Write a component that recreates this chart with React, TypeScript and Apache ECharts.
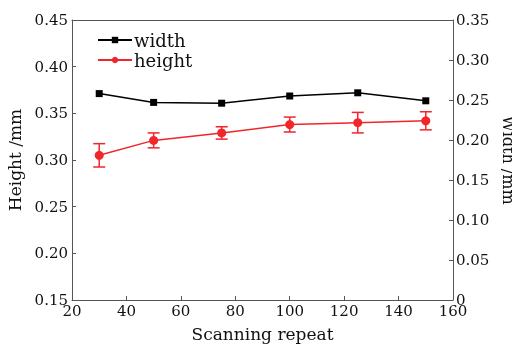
import React, { useEffect, useRef } from "react";
import * as echarts from "echarts";

const repeats = [30, 50, 75, 100, 125, 150];
const widthVals = [0.258, 0.247, 0.246, 0.255, 0.259, 0.249];
const heightVals = [0.305, 0.321, 0.329, 0.338, 0.340, 0.342];
const heightErr = [0.0125, 0.008, 0.0066, 0.008, 0.011, 0.0097];
const xTicks = { min: 20, max: 160, interval: 20 };
const leftTicks = { min: 0.15, max: 0.45, interval: 0.05 };
const rightTicks = { min: 0, max: 0.35, interval: 0.05 };

const FONT = "DejaVu Serif";
const AXIS_COLOR = "#555";
const RED = "#f0262a";

export default function App() {
  const ref = useRef<HTMLDivElement>(null);
  useEffect(() => {
    const chart = echarts.init(ref.current!, null, { renderer: "svg" });
    const fmt2 = (v: number) => (v === 0 ? "0" : v.toFixed(2));
    const axisLine = { show: true, lineStyle: { color: AXIS_COLOR, width: 1 } };
    const label = { color: "#111", fontFamily: FONT, fontSize: 15 };
    const nameStyle = { fontFamily: FONT, fontSize: 17, color: "#111" };
    chart.setOption({
      animation: false,
      textStyle: { fontFamily: FONT },
      grid: {
        left: 72,
        right: 59,
        top: 20,
        bottom: 46,
        containLabel: false,
        outerBoundsMode: "none",
      },
      legend: {
        left: 92,
        top: 26,
        orient: "vertical",
        itemGap: 2,
        itemWidth: 34,
        itemHeight: 8,
        textStyle: { fontFamily: FONT, fontSize: 18, color: "#111", padding: [0, 0, 0, -3] },
        data: ["width", "height"],
      },
      xAxis: [
        {
          type: "value",
          min: xTicks.min,
          max: xTicks.max,
          interval: xTicks.interval,
          name: "Scanning repeat",
          nameLocation: "middle",
          nameGap: 25,
          nameTextStyle: nameStyle,
          axisLine,
          axisTick: { show: true, inside: true, length: 4, lineStyle: { color: AXIS_COLOR } },
          axisLabel: { ...label, margin: 3 },
          splitLine: { show: false },
        },
        {
          type: "value",
          position: "top",
          min: xTicks.min,
          max: xTicks.max,
          axisLine,
          axisTick: { show: false },
          axisLabel: { show: false },
          splitLine: { show: false },
        },
      ],
      yAxis: [
        {
          type: "value",
          min: leftTicks.min,
          max: leftTicks.max,
          interval: leftTicks.interval,
          name: "Height /mm",
          nameLocation: "middle",
          nameGap: 46,
          nameTextStyle: nameStyle,
          axisLine,
          axisTick: { show: true, inside: true, length: 4, lineStyle: { color: AXIS_COLOR } },
          axisLabel: { ...label, margin: 4, formatter: fmt2 },
          splitLine: { show: false },
        },
        {
          type: "value",
          position: "right",
          min: rightTicks.min,
          max: rightTicks.max,
          interval: rightTicks.interval,
          name: "Width /mm",
          nameLocation: "middle",
          nameGap: 35,
          nameRotate: -90,
          nameTextStyle: { ...nameStyle, fontSize: 16 },
          axisLine,
          axisTick: { show: true, inside: true, length: 4, lineStyle: { color: AXIS_COLOR } },
          axisLabel: { ...label, margin: 3, formatter: fmt2 },
          splitLine: { show: false },
        },
      ],
      series: [
        {
          name: "width",
          type: "line",
          yAxisIndex: 1,
          data: repeats.map((x, i) => [x, widthVals[i]]),
          symbol: "rect",
          symbolSize: 7,
          itemStyle: { color: "#000" },
          lineStyle: { color: "#000", width: 1.5 },
        },
        {
          name: "height",
          type: "line",
          yAxisIndex: 0,
          data: repeats.map((x, i) => [x, heightVals[i]]),
          symbol: "circle",
          symbolSize: 9,
          itemStyle: { color: RED },
          lineStyle: { color: RED, width: 1.5 },
          z: 3,
        },
        {
          name: "heightErr",
          type: "custom",
          yAxisIndex: 0,
          data: repeats.map((x, i) => [x, heightVals[i] - heightErr[i], heightVals[i] + heightErr[i]]),
          renderItem: (params: any, api: any) => {
            const x = api.value(0);
            const lo = api.coord([x, api.value(1)]);
            const hi = api.coord([x, api.value(2)]);
            const hw = 6;
            const style = { stroke: RED, lineWidth: 1.5, fill: "none" };
            return {
              type: "group",
              children: [
                { type: "line", shape: { x1: lo[0], y1: lo[1], x2: hi[0], y2: hi[1] }, style },
                { type: "line", shape: { x1: lo[0] - hw, y1: lo[1], x2: lo[0] + hw, y2: lo[1] }, style },
                { type: "line", shape: { x1: hi[0] - hw, y1: hi[1], x2: hi[0] + hw, y2: hi[1] }, style },
              ],
            };
          },
          z: 2,
        },
      ],
    });
    return () => chart.dispose();
  }, []);
  return (
    <div
      ref={ref}
      style={{ position: "fixed", left: 0, top: 0, width: 512, height: 346 }}
    />
  );
}
